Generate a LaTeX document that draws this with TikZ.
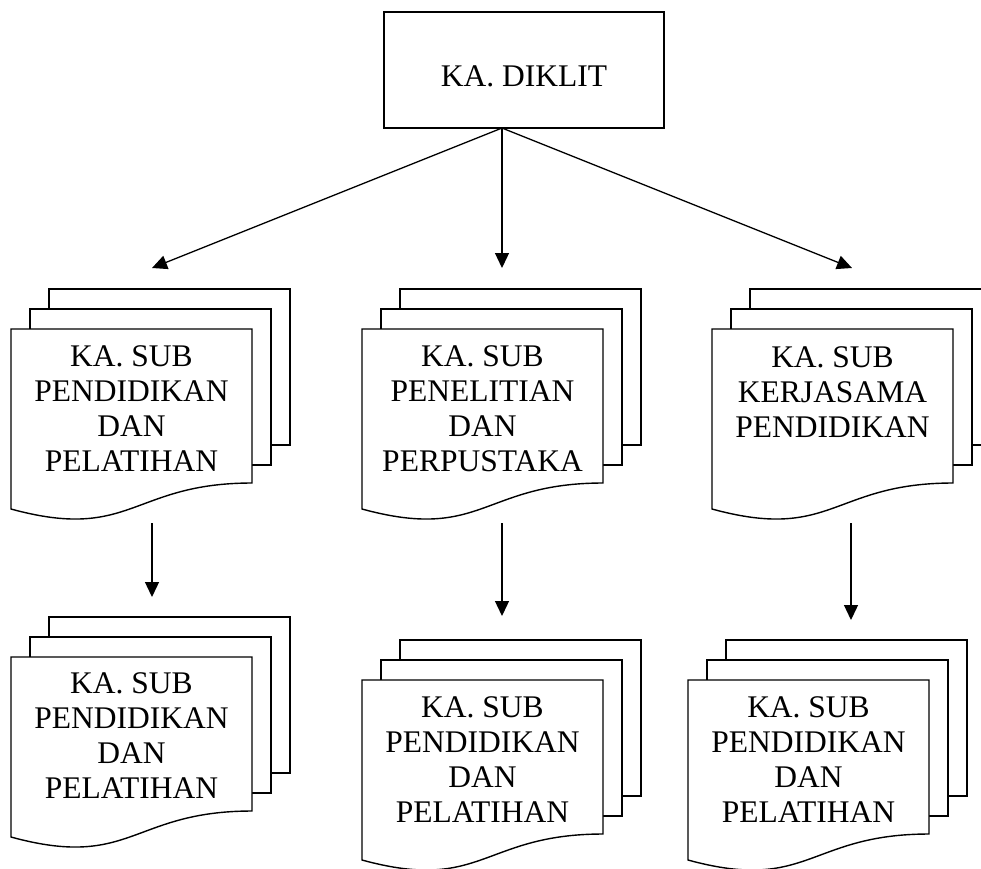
\documentclass[tikz,border=0pt]{standalone}
\usepackage{fontspec}
\setmainfont{Liberation Serif}
\usetikzlibrary{arrows.meta}
\tikzset{
  multidoc/.pic={
    \draw[pageline] (38,-40) rectangle (279,116);
    \draw[pageline] (19,-20) rectangle (260,136);
    \draw[pageline] (0,0) -- (241,0) -- (241,154)
      .. controls (120.5,154) and (120.5,213) .. (0,180) -- cycle;
  },
  pageline/.style={line width=1.4pt, fill=white, line join=miter},
  doctext/.style={anchor=north, inner sep=0pt, align=center,
    font=\fontsize{31.5}{35}\selectfont},
  arr/.style={line width=1.3pt, -{Triangle[length=15pt,width=14pt]}},
}
\begin{document}
\begin{tikzpicture}[x=1pt,y=-1pt]
\useasboundingbox (0,0) rectangle (981,868);
\clip (0,0) rectangle (981,868);

% top box
\node[draw, line width=1.4pt, minimum width=280pt, minimum height=116pt,
      inner sep=0pt, text height=32pt, text depth=0pt,
      font=\fontsize{31.5}{35}\selectfont] (diklit) at (524,70) {KA. DIKLIT};

% multi-document shapes
\pic at (11,329) {multidoc};
\pic at (362,329) {multidoc};
\pic at (712,329) {multidoc};
\pic at (11,657) {multidoc};
\pic at (362,680) {multidoc};
\pic at (688,680) {multidoc};

% texts
\node[doctext] (t1) at (131.5,345) {KA. SUB\\PENDIDIKAN\\DAN\\PELATIHAN};
\node[doctext] (t2) at (482.5,345) {KA. SUB\\PENELITIAN\\DAN\\PERPUSTAKA};
\node[doctext] (t3) at (832.5,346) {KA. SUB\\KERJASAMA\\PENDIDIKAN};
\node[doctext] (t4) at (131.5,672) {KA. SUB\\PENDIDIKAN\\DAN\\PELATIHAN};
\node[doctext] (t5) at (482.5,696) {KA. SUB\\PENDIDIKAN\\DAN\\PELATIHAN};
\node[doctext] (t6) at (808.5,696) {KA. SUB\\PENDIDIKAN\\DAN\\PELATIHAN};

% connector end points
\coordinate (src) at (502,128);
\coordinate (a1) at (152,268);
\coordinate (a2) at (502,268);
\coordinate (a3) at (852,268);
\coordinate (b1s) at (152,523);
\coordinate (b1e) at (152,597);
\coordinate (b2s) at (502,523);
\coordinate (b2e) at (502,616);
\coordinate (b3s) at (851,523);
\coordinate (b3e) at (851,620);

\draw[arr] (src) -- (a1);
\draw[arr] (src) -- (a2);
\draw[arr] (src) -- (a3);
\draw[arr] (b1s) -- (b1e);
\draw[arr] (b2s) -- (b2e);
\draw[arr] (b3s) -- (b3e);
\end{tikzpicture}
\end{document}
